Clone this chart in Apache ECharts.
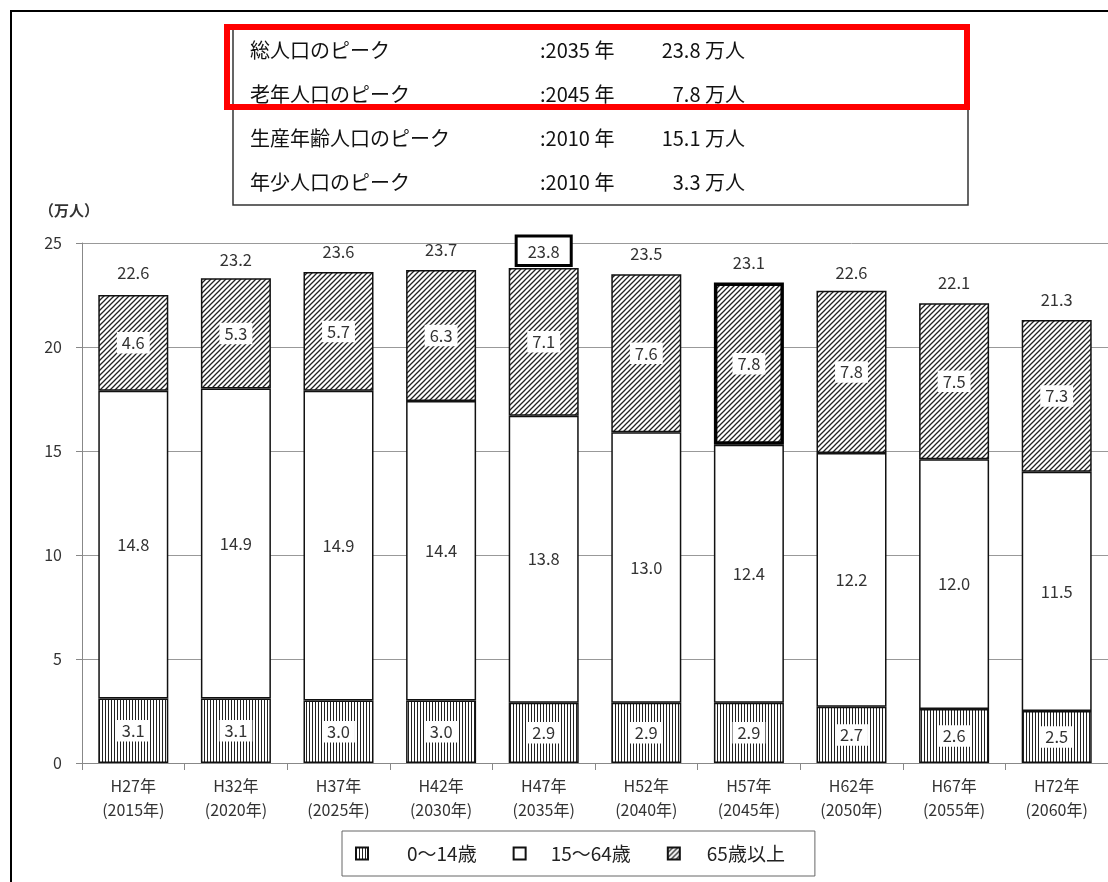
<!DOCTYPE html>
<html>
<head>
<meta charset="utf-8">
<script src="https://cdn.jsdelivr.net/npm/echarts@6/dist/echarts.min.js"></script>
<style>
  html, body { margin: 0; padding: 0; background: #fff; }
  #main { width: 1108px; height: 882px; }
</style>
</head>
<body>
<div id="main"></div>
<script>
// データ
const categories = ['H27年\n(2015年)', 'H32年\n(2020年)', 'H37年\n(2025年)', 'H42年\n(2030年)', 'H47年\n(2035年)',
                    'H52年\n(2040年)', 'H57年\n(2045年)', 'H62年\n(2050年)', 'H67年\n(2055年)', 'H72年\n(2060年)'];
const young = [3.1, 3.1, 3.0, 3.0, 2.9, 2.9, 2.9, 2.7, 2.6, 2.5];        // 0〜14歳
const working = [14.8, 14.9, 14.9, 14.4, 13.8, 13.0, 12.4, 12.2, 12.0, 11.5]; // 15〜64歳
const elderly = [4.6, 5.3, 5.7, 6.3, 7.1, 7.6, 7.8, 7.8, 7.5, 7.3];       // 65歳以上
const totals = [22.6, 23.2, 23.6, 23.7, 23.8, 23.5, 23.1, 22.6, 22.1, 21.3];
const yTicks = [0, 5, 10, 15, 20, 25];

const peakLabels = ['総人口のピーク', '老年人口のピーク', '生産年齢人口のピーク', '年少人口のピーク'];
const peakYears = [':2035 年', ':2045 年', ':2010 年', ':2010 年'];
const peakValues = ['23.8 万人', '7.8 万人', '15.1 万人', '3.3 万人'];

const peakTotalIndex = 4;   // 総人口のピーク
const peakElderIndex = 6;   // 老年人口のピーク

const textColor = '#333';
const font = '"Noto Sans CJK JP", "Noto Sans", sans-serif';

// 縦線パターン
function stripePattern() {
    const c = document.createElement('canvas');
    c.width = 3; c.height = 3;
    const ctx = c.getContext('2d');
    ctx.fillStyle = '#fff';
    ctx.fillRect(0, 0, 3, 3);
    ctx.fillStyle = '#222';
    ctx.fillRect(0, 0, 1, 3);
    return c;
}

// 斜線パターン
function hatchPattern() {
    const s = 5;
    const c = document.createElement('canvas');
    c.width = s; c.height = s;
    const ctx = c.getContext('2d');
    ctx.fillStyle = '#fff';
    ctx.fillRect(0, 0, s, s);
    ctx.strokeStyle = '#222';
    ctx.lineWidth = 1.3;
    ctx.beginPath();
    ctx.moveTo(0, s); ctx.lineTo(s, 0);
    ctx.moveTo(-1, 1); ctx.lineTo(1, -1);
    ctx.moveTo(s - 1, s + 1); ctx.lineTo(s + 1, s - 1);
    ctx.stroke();
    return c;
}

const segLabel = {
    show: true,
    position: 'inside',
    color: textColor,
    fontFamily: font,
    fontSize: 16.5,
    backgroundColor: '#fff',
    padding: [3, 5, 2, 5],
    formatter: p => p.value.toFixed(1)
};

const barBase = {
    type: 'bar',
    stack: 'pop',
    barWidth: 70,
    barGap: '-100%',
    itemStyle: { borderColor: '#111', borderWidth: 1.5 },
    label: segLabel
};

// ピーク表のテキスト
const peakGraphics = [];
for (let i = 0; i < peakLabels.length; i++) {
    const y = 53 + i * 44;
    peakGraphics.push(
        { type: 'text', left: 250, top: y - 13, style: { text: peakLabels[i], font: '20px ' + font, fill: '#111' } },
        { type: 'text', left: 540, top: y - 13, style: { text: peakYears[i], font: '20px ' + font, fill: '#111' } },
        { type: 'text', right: 1108 - 745, top: y - 13, style: { text: peakValues[i], font: '20px ' + font, fill: '#111' } }
    );
}

const legendText = { color: '#222', fontFamily: font, fontSize: 19 };

const chart = echarts.init(document.getElementById('main'));

const option = {
    backgroundColor: '#fff',
    animation: false,
    grid: { left: 82, right: -7, top: 243, bottom: 119 },
    legend: {
        data: [
            { name: '0〜14歳', textStyle: Object.assign({ padding: [0, 0, 0, 34] }, legendText) },
            { name: '15〜64歳', textStyle: Object.assign({ padding: [0, 0, 0, 20] }, legendText) },
            { name: '65歳以上', textStyle: Object.assign({ padding: [0, 0, 0, 22] }, legendText) }
        ],
        icon: 'rect',
        left: 342,
        top: 831,
        itemWidth: 12,
        itemHeight: 12,
        itemGap: 36,
        padding: [13, 30, 13, 13],
        borderColor: '#666',
        borderWidth: 1,
        textStyle: legendText
    },
    xAxis: {
        type: 'category',
        data: categories,
        axisLine: { lineStyle: { color: '#888', width: 1 } },
        axisTick: { show: true, length: 7, lineStyle: { color: '#888' } },
        axisLabel: { color: textColor, fontFamily: font, fontSize: 16, lineHeight: 24, margin: 11 }
    },
    yAxis: {
        type: 'value',
        min: yTicks[0],
        max: yTicks[yTicks.length - 1],
        interval: yTicks[1] - yTicks[0],
        axisLine: { show: true, lineStyle: { color: '#888' } },
        axisTick: { show: true, length: 6, lineStyle: { color: '#888' } },
        axisLabel: { color: textColor, fontFamily: font, fontSize: 16, margin: 20 },
        splitLine: { lineStyle: { color: '#999', width: 1 } }
    },
    series: [
        Object.assign({}, barBase, {
            name: '0〜14歳',
            data: young,
            itemStyle: { color: { image: stripePattern(), repeat: 'repeat' }, borderColor: '#111', borderWidth: 1.5 }
        }),
        Object.assign({}, barBase, {
            name: '15〜64歳',
            data: working,
            itemStyle: { color: '#fff', borderColor: '#111', borderWidth: 1.5 },
            label: Object.assign({}, segLabel, { backgroundColor: 'transparent' })
        }),
        Object.assign({}, barBase, {
            name: '65歳以上',
            data: elderly.map((v, i) => i === peakElderIndex
                ? { value: v, itemStyle: { borderColor: '#000', borderWidth: 3.5 } }
                : v),
            itemStyle: { color: { image: hatchPattern(), repeat: 'repeat' }, borderColor: '#111', borderWidth: 1.5 }
        }),
        {
            // 合計ラベル（透明な棒の上に表示）
            name: '合計',
            type: 'bar',
            barWidth: 70,
            barGap: '-100%',
            silent: true,
            z: 1,
            itemStyle: { color: 'rgba(0,0,0,0)', borderWidth: 0 },
            data: totals.map((v, i) => i === peakTotalIndex
                ? { value: v, label: { borderColor: '#000', borderWidth: 3, padding: [6, 10, 4, 10], distance: 4, backgroundColor: '#fff' } }
                : v),
            label: {
                show: true,
                position: 'top',
                distance: 12,
                color: textColor,
                fontFamily: font,
                fontSize: 16.5,
                formatter: p => p.value.toFixed(1)
            }
        }
    ],
    graphic: [
        // 外枠
        { type: 'polyline', shape: { points: [[11, 882], [11, 11], [1108, 11]] }, style: { stroke: '#000', lineWidth: 2, fill: null } },
        // ピーク表の枠
        { type: 'rect', shape: { x: 233, y: 27, width: 735, height: 178 }, style: { stroke: '#333', lineWidth: 1.5, fill: '#fff' } },
        { type: 'rect', shape: { x: 227, y: 27, width: 740, height: 80 }, style: { stroke: '#ff0000', lineWidth: 6, fill: null }, z: 10 },
        // 単位
        { type: 'text', left: 39, top: 203, style: { text: '（万人）', font: 'bold 15px ' + font, fill: textColor } }
    ].concat(peakGraphics)
};

chart.setOption(option);
</script>
</body>
</html>
